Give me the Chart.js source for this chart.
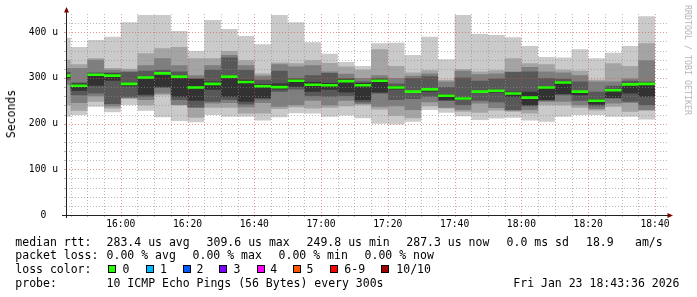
<!DOCTYPE html>
<html>
<head>
<meta charset="utf-8">
<script src="https://cdn.jsdelivr.net/npm/chart.js@4.4.1/dist/chart.umd.min.js"></script>
<style>
  body { margin: 0; background: #fff; }
  #wrap { position: relative; width: 697px; height: 297px; overflow: hidden; background: #fff;
          font-family: "DejaVu Sans Mono", monospace; color: #000; }
  #wrap canvas { position: absolute; left: 0; top: 0; }
  .t { position: absolute; font-size: 11.5px; line-height: 14px; white-space: pre; }
  .sq { position: absolute; width: 8px; height: 8px; box-sizing: border-box; border: 1px solid #000; }
  #unit { position: absolute; left: 11px; top: 114px; font-size: 11.5px; line-height: 14px;
          white-space: pre; transform: translate(-50%, -50%) rotate(-90deg); }
  #mark { position: absolute; left: 687.5px; top: 60px; font-size: 8.3px; line-height: 10px;
          white-space: pre; color: #b4b4b4; transform: translate(-50%, -50%) rotate(90deg); }
</style>
</head>
<body>
<div id="wrap">
  <canvas id="smoke" width="697" height="297"></canvas>
  <div id="unit">Seconds</div>
  <div id="mark">RRDTOOL / TOBI OETIKER</div>
</div>
<script>
// intervalos de 5 min (hora final de cada amostra)
const binEnds = ['15:45','15:50','15:55','16:00','16:05','16:10','16:15','16:20','16:25','16:30',
                 '16:35','16:40','16:45','16:50','16:55','17:00','17:05','17:10','17:15','17:20',
                 '17:25','17:30','17:35','17:40','17:45','17:50','17:55','18:00','18:05','18:10',
                 '18:15','18:20','18:25','18:30','18:35','18:40'];
const stepMinutes = 5;
const viewStart = '15:43:36';
const viewEnd = '18:43:36';

// 10 pings ordenados por amostra (us)
const ping1  = [215,219,237,225,241,228,214,206,203,219,215,215,207,214,223,222,215,218,212,200,198,204,230,224,216,208,211,213,207,204,215,219,219,215,215,209];
const ping2  = [240,228,248,233,254,240,262,240,213,235,235,222,222,232,236,233,235,238,240,231,217,212,238,233,226,224,229,226,222,240,240,235,229,237,226,228];
const ping3  = [285,245,260,238,256,252,266,241,234,244,245,236,245,237,241,250,240,250,243,237,238,230,247,235,230,244,234,228,230,248,248,240,232,244,245,230];
const ping4  = [295,262,266,243,258,259,278,252,236,248,252,242,253,270,275,260,259,260,247,266,252,254,259,250,240,250,247,230,238,250,262,250,238,255,248,240];
const ping5  = [300,272,283,294,282,263,281,259,250,274,259,248,256,275,281,270,274,268,252,268,275,267,270,251,252,268,268,259,240,252,265,262,242,256,266,259];
const ping6  = [307,288,309,310,290,303,312,306,298,292,306,296,286,288,297,291,289,297,289,297,282,271,277,264,258,272,274,270,270,282,293,272,253,276,289,290];
const ping7  = [313,290,312,312,313,316,318,314,299,318,345,318,296,316,300,306,311,300,292,300,288,300,304,280,301,294,299,313,314,300,298,292,270,283,294,292];
const ping8  = [322,322,340,318,316,328,343,328,306,328,350,328,305,330,325,328,314,309,300,306,300,305,310,292,316,308,310,314,324,314,312,306,292,292,299,339];
const ping9  = [340,330,343,322,320,354,365,368,343,343,359,339,310,334,332,339,333,325,318,363,326,312,317,296,319,314,317,343,332,330,318,316,296,332,326,376];
const ping10 = [388,368,383,390,422,438,438,403,359,427,407,392,374,438,422,378,353,335,326,376,377,350,390,341,438,396,394,389,370,346,345,363,343,355,370,435];
const median = [305,283,307,305,287,301,310,303,279,287,303,291,282,280,294,285,284,293,284,294,279,270,275,261,255,270,272,266,257,279,290,270,250,273,286,287];

const xTickLabels = ['16:00','16:20','16:40','17:00','17:20','17:40','18:00','18:20','18:40'];
const yTickValues = [0, 100, 200, 300, 400];
const yTickLabels = ['0  ', '100 u', '200 u', '300 u', '400 u'];

// legenda
const rttStats = ['median rtt:', '283.4 us avg', '309.6 us max', '249.8 us min', '287.3 us now', '0.0 ms sd', '18.9', 'am/s'];
const lossStats = ['packet loss:', '0.00 % avg', '0.00 % max', '0.00 % min', '0.00 % now'];
const lossLabels = ['0', '1', '2', '3', '4', '5', '6-9', '10/10'];
const probeLine = ['probe:', '10 ICMP Echo Pings (56 Bytes) every 300s', 'Fri Jan 23 18:43:36 2026'];

// estilos
const smokeColors = ['#cacaca', '#a4a4a4', '#7e7e7e', '#585858', '#323232'];
const lossColors = ['#26ff00', '#00b8ff', '#0059ff', '#7e00ff', '#ff00ff', '#ff5500', '#ff0000', '#a10000'];
const gridMinor = 'rgba(140,140,140,0.6)';
const gridMajor = 'rgba(222,79,79,0.6)';
const AXIS_FONT = { family: 'DejaVu Sans Mono', size: 9.7 };

function toMin(s) {
    const p = s.split(':').map(Number);
    return p[0] * 60 + p[1] + (p[2] || 0) / 60;
}

const xMin = toMin(viewStart);
const xMax = toMin(viewEnd);
const pings = [ping1, ping2, ping3, ping4, ping5, ping6, ping7, ping8, ping9, ping10];

// cada valor vale para o intervalo (fim - 5 min, fim]
function stepPoints(values) {
    const pts = [{ x: toMin(binEnds[0]) - stepMinutes, y: values[0] }];
    binEnds.forEach((t, i) => pts.push({ x: toMin(t), y: values[i] }));
    return pts;
}

// fumaça: pares de pings (externo -> interno)
const datasets = [];
for (let k = 0; k < 5; k++) {
    const lowIdx = datasets.length;
    datasets.push({
        data: stepPoints(pings[k]), stepped: 'after', borderWidth: 0,
        borderColor: 'transparent', pointRadius: 0, fill: false, order: 20
    });
    datasets.push({
        data: stepPoints(pings[9 - k]), stepped: 'after', borderWidth: 0,
        borderColor: 'transparent', backgroundColor: smokeColors[k],
        pointRadius: 0, fill: lowIdx, order: 10 - k
    });
}

// mediana: um traço por amostra, sem ligações verticais
const medPts = [];
binEnds.forEach((t, i) => {
    const end = toMin(t);
    medPts.push({ x: end - stepMinutes, y: median[i] });
    medPts.push({ x: end, y: median[i] });
    medPts.push({ x: end, y: null });
});
const medianSet = {
    data: medPts, borderColor: lossColors[0], borderWidth: 2.6, borderCapStyle: 'butt',
    pointRadius: 0, fill: false, spanGaps: false, order: 0
};

// grade pontilhada + eixos com setas (estilo rrdtool)
const rrdGrid = {
    id: 'rrdGrid',
    beforeDatasetDraw(chart, args) {
        // grade antes da mediana, depois da fumaça
        if (args.index !== chart.data.datasets.length - 1) return;
        const { ctx, chartArea: a, scales: { x, y } } = chart;
        const hline = (v, c) => {
            const py = Math.round(y.getPixelForValue(v)) + 0.5;
            ctx.strokeStyle = c;
            ctx.setLineDash([1, 2]);
            ctx.beginPath(); ctx.moveTo(a.left, py); ctx.lineTo(a.right, py); ctx.stroke();
            ctx.setLineDash([]);
            ctx.beginPath(); ctx.moveTo(a.left - 2, py); ctx.lineTo(a.left, py); ctx.stroke();
        };
        const vline = (v, c) => {
            const px = Math.round(x.getPixelForValue(v)) + 0.5;
            ctx.strokeStyle = c;
            ctx.setLineDash([1, 2]);
            ctx.beginPath(); ctx.moveTo(px, a.top); ctx.lineTo(px, a.bottom); ctx.stroke();
            ctx.setLineDash([]);
            ctx.beginPath(); ctx.moveTo(px, a.bottom); ctx.lineTo(px, a.bottom + 2); ctx.stroke();
        };
        ctx.save();
        ctx.lineWidth = 1;
        for (let v = 20; v < y.max; v += 20) {
            if (v % 100) hline(v, gridMinor);
        }
        yTickValues.forEach(v => { if (v > 0) hline(v, gridMajor); });
        const majors = xTickLabels.map(toMin);
        binEnds.forEach(t => {
            const m = toMin(t);
            if (!majors.includes(m)) vline(m, gridMinor);
        });
        majors.forEach(m => vline(m, gridMajor));
        ctx.restore();
    },
    afterDatasetsDraw(chart) {
        const { ctx, chartArea: a } = chart;
        const ax = a.left + 0.5, ay = a.bottom + 0.5;
        ctx.save();
        ctx.lineWidth = 1;
        ctx.strokeStyle = '#212121';
        ctx.beginPath();
        ctx.moveTo(a.left - 4, ay); ctx.lineTo(a.right + 1, ay);
        ctx.moveTo(ax, a.bottom + 3); ctx.lineTo(ax, a.top - 2);
        ctx.stroke();
        ctx.fillStyle = '#800000';
        ctx.beginPath();
        ctx.moveTo(ax, a.top - 7); ctx.lineTo(ax - 2.5, a.top - 1.5); ctx.lineTo(ax + 2.5, a.top - 1.5);
        ctx.closePath(); ctx.fill();
        ctx.beginPath();
        ctx.moveTo(a.right + 6, ay); ctx.lineTo(a.right + 0.5, ay - 2.5); ctx.lineTo(a.right + 0.5, ay + 2.5);
        ctx.closePath(); ctx.fill();
        ctx.restore();
    }
};

datasets.push(medianSet);

new Chart(document.getElementById('smoke'), {
    type: 'line',
    data: { datasets: datasets },
    options: {
        responsive: false,
        animation: false,
        events: [],
        layout: { padding: { left: 0, right: 30, top: 14, bottom: 62 } },
        plugins: { legend: { display: false }, tooltip: { enabled: false } },
        scales: {
            x: {
                type: 'linear', min: xMin, max: xMax,
                grid: { display: false, drawTicks: false }, border: { display: false },
                afterBuildTicks: s => { s.ticks = xTickLabels.map(l => ({ value: toMin(l) })); },
                afterFit: s => { s.height = 20; },
                ticks: {
                    autoSkip: false, maxRotation: 0, padding: 3.5, color: '#000', font: AXIS_FONT,
                    callback: (v, i) => xTickLabels[i]
                }
            },
            y: {
                min: 0, max: 440,
                grid: { display: false, drawTicks: false }, border: { display: false },
                afterBuildTicks: s => { s.ticks = yTickValues.map(v => ({ value: v })); },
                afterFit: s => { s.width = 66; },
                ticks: {
                    autoSkip: false, padding: 8, color: '#000', font: AXIS_FONT,
                    callback: (v, i) => yTickLabels[i]
                }
            }
        }
    },
    plugins: [rrdGrid]
});

// texto da legenda (HTML)
const wrap = document.getElementById('wrap');
function addText(txt, left, top) {
    const d = document.createElement('div');
    d.className = 't';
    d.textContent = txt;
    d.style.left = left + 'px';
    d.style.top = top + 'px';
    wrap.appendChild(d);
}
const rttX = [16, 107.3, 207.3, 307.3, 407, 507.3, 586.7, 635.7];
rttStats.forEach((s, i) => addText(s, rttX[i] - 0.7, 234.7));
const lossX = [16, 107.3, 193.3, 279.3, 365.3];
lossStats.forEach((s, i) => addText(s, lossX[i] - 0.7, 248.3));
addText('loss color:', 15.3, 262.4);
const sqX = [108.3, 145.7, 182.7, 219.3, 256.7, 293.3, 330, 381.3];
const lblX = [123.3, 160.7, 197.3, 234.3, 271, 307.3, 345, 397];
lossLabels.forEach((l, i) => {
    const q = document.createElement('div');
    q.className = 'sq';
    q.style.left = sqX[i] + 'px';
    q.style.top = '265px';
    q.style.background = lossColors[i];
    wrap.appendChild(q);
    addText(l, lblX[i] - 0.7, 262.4);
});
const probeX = [16, 107.3, 514];
probeLine.forEach((s, i) => addText(s, probeX[i] - 0.7, 276.3));
</script>
</body>
</html>
